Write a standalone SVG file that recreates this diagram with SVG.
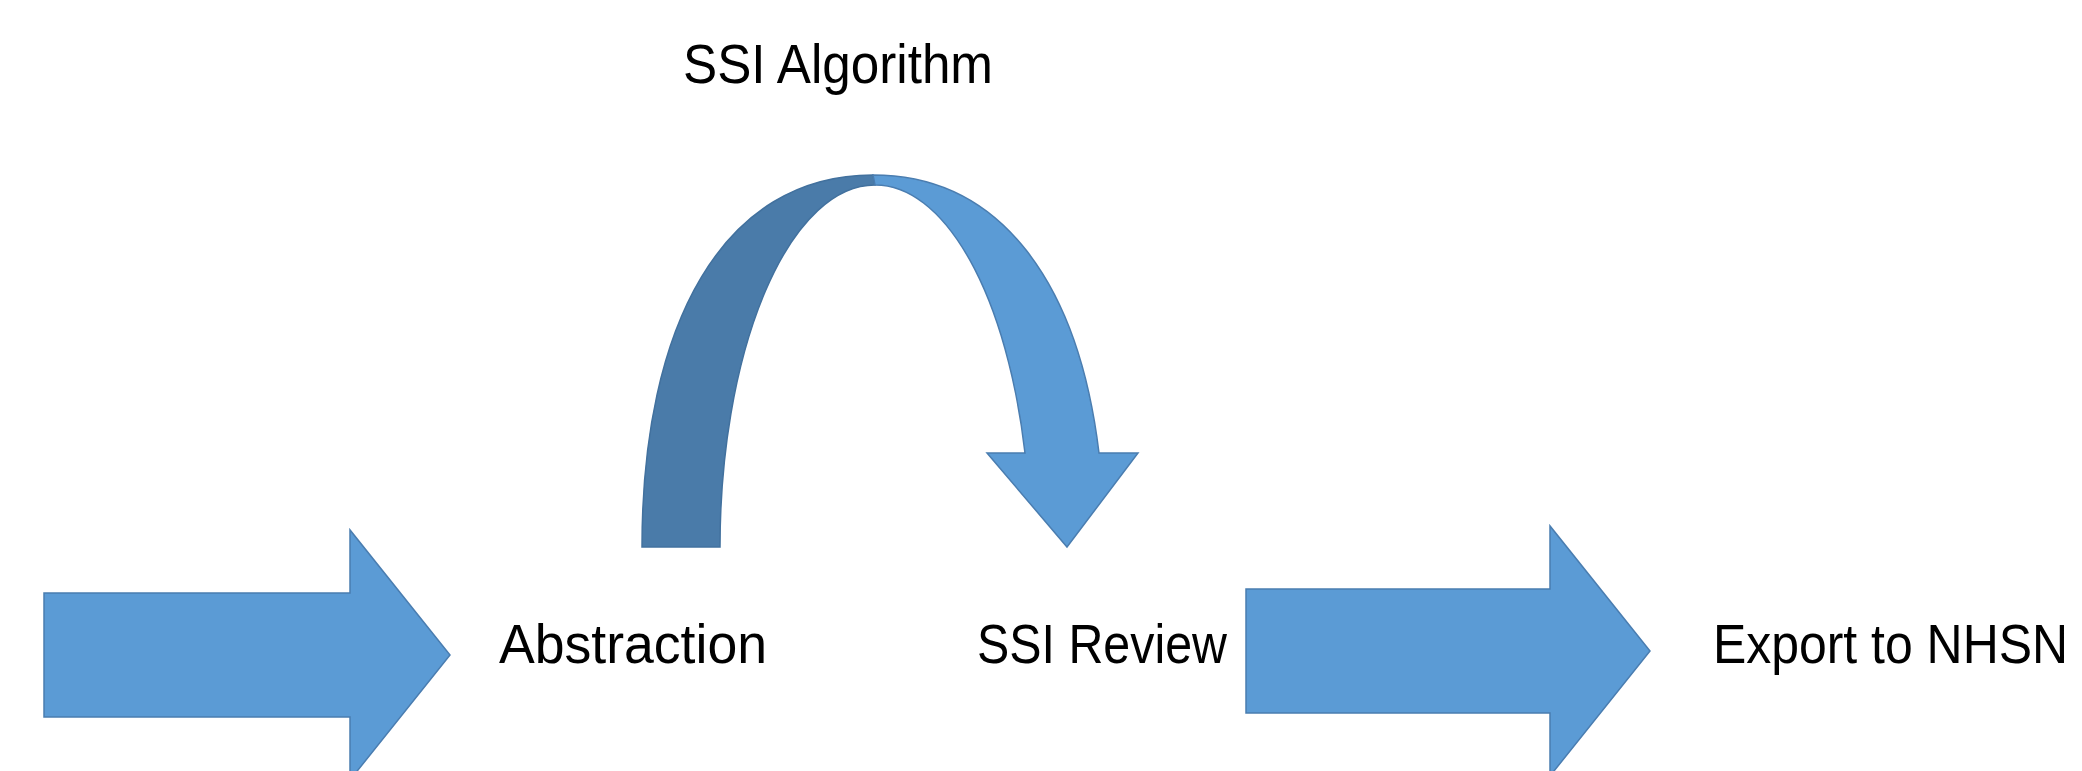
<svg xmlns="http://www.w3.org/2000/svg" width="2082" height="771" viewBox="0 0 2082 771">
<style>
.arrow{fill:#5b9bd5;stroke:#4a7db0;stroke-width:1.5;stroke-linejoin:miter}
.back{fill:#4a7ba9;stroke:#42719e;stroke-width:1.5}
.lbl{font-family:"Liberation Sans",Arial,sans-serif;font-size:56px;fill:#000}
</style>
<rect width="2082" height="771" fill="#fff"/>
<g id="connectors">
<g id="arrow-in">
<polygon class="arrow" points="44,593 350,593 350,530 450,655 350,780 350,717 44,717"/>
</g>
<g id="arrow-algorithm">
<path class="back" d="M642,547 C642,324 723,175 873,175 L875,185 A155,362 0 0 0 720,547 Z"/>
<path class="arrow" d="M875,185 L873,175 C1000.8,175 1078.5,283.2 1099,453 L1138,453 L1067,547 L987,453 L1025,453 A155,362 0 0 0 875,185 Z"/>
</g>
<g id="arrow-export">
<polygon class="arrow" points="1246,589 1550,589 1550,526 1650,651 1550,776 1550,713 1246,713"/>
</g>
</g>
<g id="node-algorithm"><text class="lbl" x="683" y="83" textLength="310" lengthAdjust="spacingAndGlyphs">SSI Algorithm</text></g>
<g id="node-abstraction"><text class="lbl" x="499" y="663" textLength="268" lengthAdjust="spacingAndGlyphs">Abstraction</text></g>
<g id="node-review"><text class="lbl" x="977" y="663" textLength="250" lengthAdjust="spacingAndGlyphs">SSI Review</text></g>
<g id="node-export"><text class="lbl" x="1713" y="663" textLength="355" lengthAdjust="spacingAndGlyphs">Export to NHSN</text></g>
</svg>
